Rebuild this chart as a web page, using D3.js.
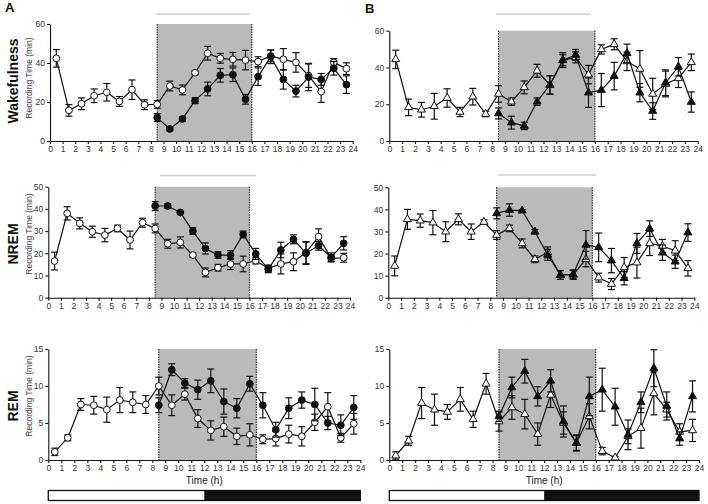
<!DOCTYPE html>
<html><head><meta charset="utf-8">
<script src="https://cdn.jsdelivr.net/npm/d3@7"></script>
<style>body{margin:0;background:#fff}svg{display:block;font-family:Arial,"Liberation Sans",sans-serif}</style>
</head><body>
<svg id="c" width="708" height="504"></svg>
<script>
const hours = [0.5,1.5,2.5,3.5,4.5,5.5,6.5,7.5,8.5,9.5,10.5,11.5,12.5,13.5,14.5,15.5,16.5,17.5,18.5,19.5,20.5,21.5,22.5,23.5];
const xTicks = [0,1,2,3,4,5,6,7,8,9,10,11,12,13,14,15,16,17,18,19,20,21,22,23,24];
const rowLabels = ["Wakefulness","NREM","REM"];
const panelLetters = ["A","B"];
const yTicksWake = [0,20,40,60];
const yTicksNrem = [0,10,20,30,40,50];
const yTicksRem = [0,5,10,15];

// Panel A - Wakefulness (open circles = all hours, filled circles from 8.5 h)
const wakeA_open = [42.4,15.7,19.1,23.2,25,20.3,26.3,18.6,18.8,28.2,26.2,35,45,42.4,41.9,41.5,40.7,43.6,41.9,40.3,33.5,25.3,40.3,37.1];
const wakeA_openErr = [4.5,3,3,3.5,4.5,2.5,5,2.5,2,2.5,2.5,1,3.5,2.5,3.5,5,2.5,3,5.5,5,6,5.5,2,3];
const wakeA_filled = [12,6.2,11.3,20.7,26.7,33.7,34,21.4,33,43.2,31.6,25.6,32.8,31.6,37.3,28.9];
const wakeA_filledErr = [2,1,1,1.5,3.5,3.5,3.5,2.5,4.5,3.5,5,3,7,3,3.5,4.5];
// Panel B - Wakefulness (open / filled triangles)
const wakeB_open = [44.4,18.3,17,18.9,23.4,15.8,24.1,14.7,25.6,21.4,29.2,38.2,30.5,43.9,45.5,36.1,49.8,52.6,43.3,39.2,25.6,31,34.1,42.8];
const wakeB_openErr = [5,4.5,4,7,5,2.5,4.5,1.5,4.5,2,3.5,3.5,5,3,3,5,2.5,3,5,10,8.5,7,5,4.5];
const wakeB_filled = [15,10,8.2,21.4,30.5,44,46.8,26.3,27.7,35.3,47.7,26.3,16.3,31.7,40.4,21.2];
const wakeB_filledErr = [3,3.5,2,2,5,4,3,8,9,7.5,5,5,4.5,7,5,5.5];
// Panel A - NREM
const nremA_open = [16.5,38,33.5,29.7,28.2,31.2,26,33.8,31.2,24.3,24.9,19.2,11.4,13.5,15.2,15.2,16.7,13.2,15.2,16.2,20.3,27.5,17.7,18];
const nremA_openErr = [4,3,2.5,2.5,3,1.5,4,2,2,2,2.5,1,2,1.5,2.5,3.5,1.5,1.5,4.5,4,5,3.5,1.5,2];
const nremA_filled = [41.3,41.3,38.4,30,22.2,19.2,19.2,28.5,19.7,12.8,21.5,26.3,20,23.4,18.2,24.5];
const nremA_filledErr = [2,1,0.5,1.5,2.5,1.5,2,1.5,2.5,1.5,3.5,2,5,2,2,3];
// Panel B - NREM
const nremB_open = [14.4,35.5,34.9,34,29.9,35.5,29.9,34.3,28.4,31.4,24.6,17.4,20.5,10.3,10.3,17.5,9.1,6.2,13.7,15.9,24.6,23.4,21.3,13.3];
const nremB_openErr = [4.5,4.5,3,5.5,4.5,2.5,3.5,1,2,1.5,2,1.5,2.5,2,2,3.5,2,2.5,4.5,7,5.5,3,4.5,3.5];
const nremB_filled = [38.2,39.7,39.4,29.9,19.4,10.3,10.6,23.9,22.8,16.8,8.8,24.6,31.3,20.4,16.3,29.5];
const nremB_filledErr = [2.5,2.8,0.5,1,2.5,2,2,6.5,6.5,5.5,3,4.5,3.5,3.5,3,4];
// Panel A - REM
const remA_open = [1.1,3,7.5,7.4,6.8,8.1,7.8,7.5,10,7.4,8.9,5.6,4,4.5,3.2,3.4,2.8,2.9,3.5,3.2,5.1,7.2,3,4.9];
const remA_openErr = [0.5,0.4,0.8,1.2,1.7,1.7,1.4,1.2,1.2,1.4,0.8,1.2,1.3,1.3,1.1,1.5,0.6,1,1.2,1.3,1.1,1.9,0.6,1.4];
const remA_filled = [7.4,12.2,10.4,9.5,10.7,7.9,7,10.3,7.4,4.1,7,8.1,7.5,5,4.7,7.1];
const remA_filledErr = [1,0.8,0.6,1.3,1.6,1.7,1.3,1,1.7,1,1.4,1.1,2.2,0.9,1.4,1.6];
// Panel B - REM
const remB_open = [0.6,2.6,7.7,6.8,6.5,8.2,5.5,10.3,5.2,7.1,6.2,3.5,8.8,5,2.3,5.9,1.2,0.3,3.2,4.3,9,6.8,3.8,4];
const remB_openErr = [0.5,0.6,2.1,2.1,1,1.6,1.1,1.4,1.3,1.6,2,1.5,1.7,1.5,1.1,1.7,0.5,0.2,1,2.7,2.9,1,1.1,1.5];
const remB_filled = [5.9,9.8,12,8.6,10.7,5.2,2.3,8.6,9.5,7.2,3.4,7.8,12.4,7.3,2.9,8.6];
const remB_filledErr = [0.7,1.4,1.6,1.3,1.5,2.1,1,2.6,2.9,2.5,2,1.4,2.5,1.9,0.9,2.1];

const filledHours = hours.slice(8);
const shadeStart = 8.5, shadeEnd = 16, lightEnd = 12;

const panels = [
  {col:0,row:0,x0:50,x1:352.7,yb:141,yt:24,ymax:60,ticks:yTicksWake,open:wakeA_open,openErr:wakeA_openErr,filled:wakeA_filled,filledErr:wakeA_filledErr,shape:"circle",bar:[8.4,15.8],barY:14,labelY:81,subY:78},
  {col:1,row:0,x0:389.3,x1:697.7,yb:141,yt:30.7,ymax:60,ticks:yTicksWake,open:wakeB_open,openErr:wakeB_openErr,filled:wakeB_filled,filledErr:wakeB_filledErr,shape:"tri",bar:[8.3,15.7],barY:14},
  {col:0,row:1,x0:48.3,x1:350,yb:297.7,yt:186.7,ymax:50,ticks:yTicksNrem,open:nremA_open,openErr:nremA_openErr,filled:nremA_filled,filledErr:nremA_filledErr,shape:"circle",bar:[8.9,16.5],barY:175.5,labelY:244,subY:234},
  {col:1,row:1,x0:388.3,x1:694.3,yb:297.7,yt:187.3,ymax:50,ticks:yTicksNrem,open:nremB_open,openErr:nremB_openErr,filled:nremB_filled,filledErr:nremB_filledErr,shape:"tri",bar:[8.6,16.3],barY:175},
  {col:0,row:2,x0:48.3,x1:360.3,yb:460,yt:349,ymax:15,ticks:yTicksRem,open:remA_open,openErr:remA_openErr,filled:remA_filled,filledErr:remA_filledErr,shape:"circle",bar:null,time:true,labelY:406,subY:396},
  {col:1,row:2,x0:389.3,x1:699,yb:460,yt:349,ymax:15,ticks:yTicksRem,open:remB_open,openErr:remB_openErr,filled:remB_filled,filledErr:remB_filledErr,shape:"tri",bar:null,time:true}
];

const svg = d3.select("#c");
const triSym = d3.symbol().type(d3.symbolTriangle).size(28);

panels.forEach(p => {
  const x = d3.scaleLinear().domain([0,24]).range([p.x0,p.x1]);
  const y = d3.scaleLinear().domain([0,p.ymax]).range([p.yb,p.yt]);
  const g = svg.append("g");

  g.append("rect").attr("x",x(shadeStart)).attr("y",y(p.ymax)).attr("width",x(shadeEnd)-x(shadeStart)).attr("height",y(0)-y(p.ymax)).attr("fill","#bababa");
  [shadeStart,shadeEnd].forEach(v => g.append("line").attr("x1",x(v)).attr("x2",x(v)).attr("y1",y(p.ymax)).attr("y2",y(0)).attr("stroke","#111").attr("stroke-width",1).attr("stroke-dasharray","1.5,1"));
  if (p.bar) g.append("line").attr("x1",x(p.bar[0])).attr("x2",x(p.bar[1])).attr("y1",p.barY).attr("y2",p.barY).attr("stroke","#cfcfcf").attr("stroke-width",1.5);

  const xa = g.append("g").attr("transform",`translate(0,${y(0)})`).call(d3.axisBottom(x).tickValues(xTicks).tickSize(3).tickSizeOuter(0).tickPadding(2));
  const ya = g.append("g").attr("transform",`translate(${x(0)},0)`).call(d3.axisLeft(y).tickValues(p.ticks).tickSize(3).tickSizeOuter(0).tickPadding(2));
  [xa,ya].forEach(a => { a.selectAll("path,line").attr("stroke","#111").attr("stroke-width",1.1); a.selectAll("text").attr("font-size",8.5).attr("fill","#333").attr("font-family","Arial, 'Liberation Sans', sans-serif"); });

  const drawSeries = (hs, vals, errs, filled) => {
    const cap = 3.5;
    const eb = g.append("g").attr("stroke","#111").attr("stroke-width",1.2);
    hs.forEach((h,i) => {
      const cx = x(h), lo = y(vals[i]-errs[i]), hi = y(vals[i]+errs[i]);
      eb.append("line").attr("x1",cx).attr("x2",cx).attr("y1",lo).attr("y2",hi);
      eb.append("line").attr("x1",cx-cap).attr("x2",cx+cap).attr("y1",lo).attr("y2",lo);
      eb.append("line").attr("x1",cx-cap).attr("x2",cx+cap).attr("y1",hi).attr("y2",hi);
    });
    g.append("path").datum(hs.map((h,i)=>[h,vals[i]])).attr("fill","none").attr("stroke","#111").attr("stroke-width",1.2)
      .attr("d", d3.line().x(d=>x(d[0])).y(d=>y(d[1])));
    const m = g.append("g");
    hs.forEach((h,i) => {
      if (p.shape === "circle") m.append("circle").attr("cx",x(h)).attr("cy",y(vals[i])).attr("r",3.4).attr("fill",filled?"#111":"#fff").attr("stroke","#111").attr("stroke-width",1);
      else m.append("path").attr("d",triSym()).attr("transform",`translate(${x(h)},${y(vals[i])})`).attr("fill",filled?"#111":"#fff").attr("stroke","#111").attr("stroke-width",1);
    });
  };
  drawSeries(hours, p.open, p.openErr, false);
  drawSeries(filledHours, p.filled, p.filledErr, true);

  if (p.time) {
    svg.append("text").attr("x",(x(0)+x(24))/2).attr("y",484).attr("text-anchor","middle").attr("font-size",10).attr("fill","#222").text("Time (h)");
    svg.append("rect").attr("x",x(0)).attr("y",490.5).attr("width",x(24)-x(0)).attr("height",10).attr("fill","#fff").attr("stroke","#111").attr("stroke-width",1.3);
    svg.append("rect").attr("x",x(lightEnd)).attr("y",490.5).attr("width",x(24)-x(lightEnd)).attr("height",10).attr("fill","#111");
  }
  if (p.col === 0) {
    svg.append("text").attr("transform",`translate(18,${p.labelY}) rotate(-90)`).attr("text-anchor","middle").attr("font-size",14).attr("font-weight","bold").attr("fill","#111").text(rowLabels[p.row]);
    svg.append("text").attr("transform",`translate(31.5,${p.subY}) rotate(-90)`).attr("text-anchor","middle").attr("font-size",8.5).attr("fill","#444").text("Recording Time (min)");
  }
});

svg.append("text").attr("x",5).attr("y",12).attr("font-size",13).attr("font-weight","bold").attr("fill","#111").text(panelLetters[0]);
svg.append("text").attr("x",365).attr("y",13).attr("font-size",13).attr("font-weight","bold").attr("fill","#111").text(panelLetters[1]);
</script>
</body></html>
